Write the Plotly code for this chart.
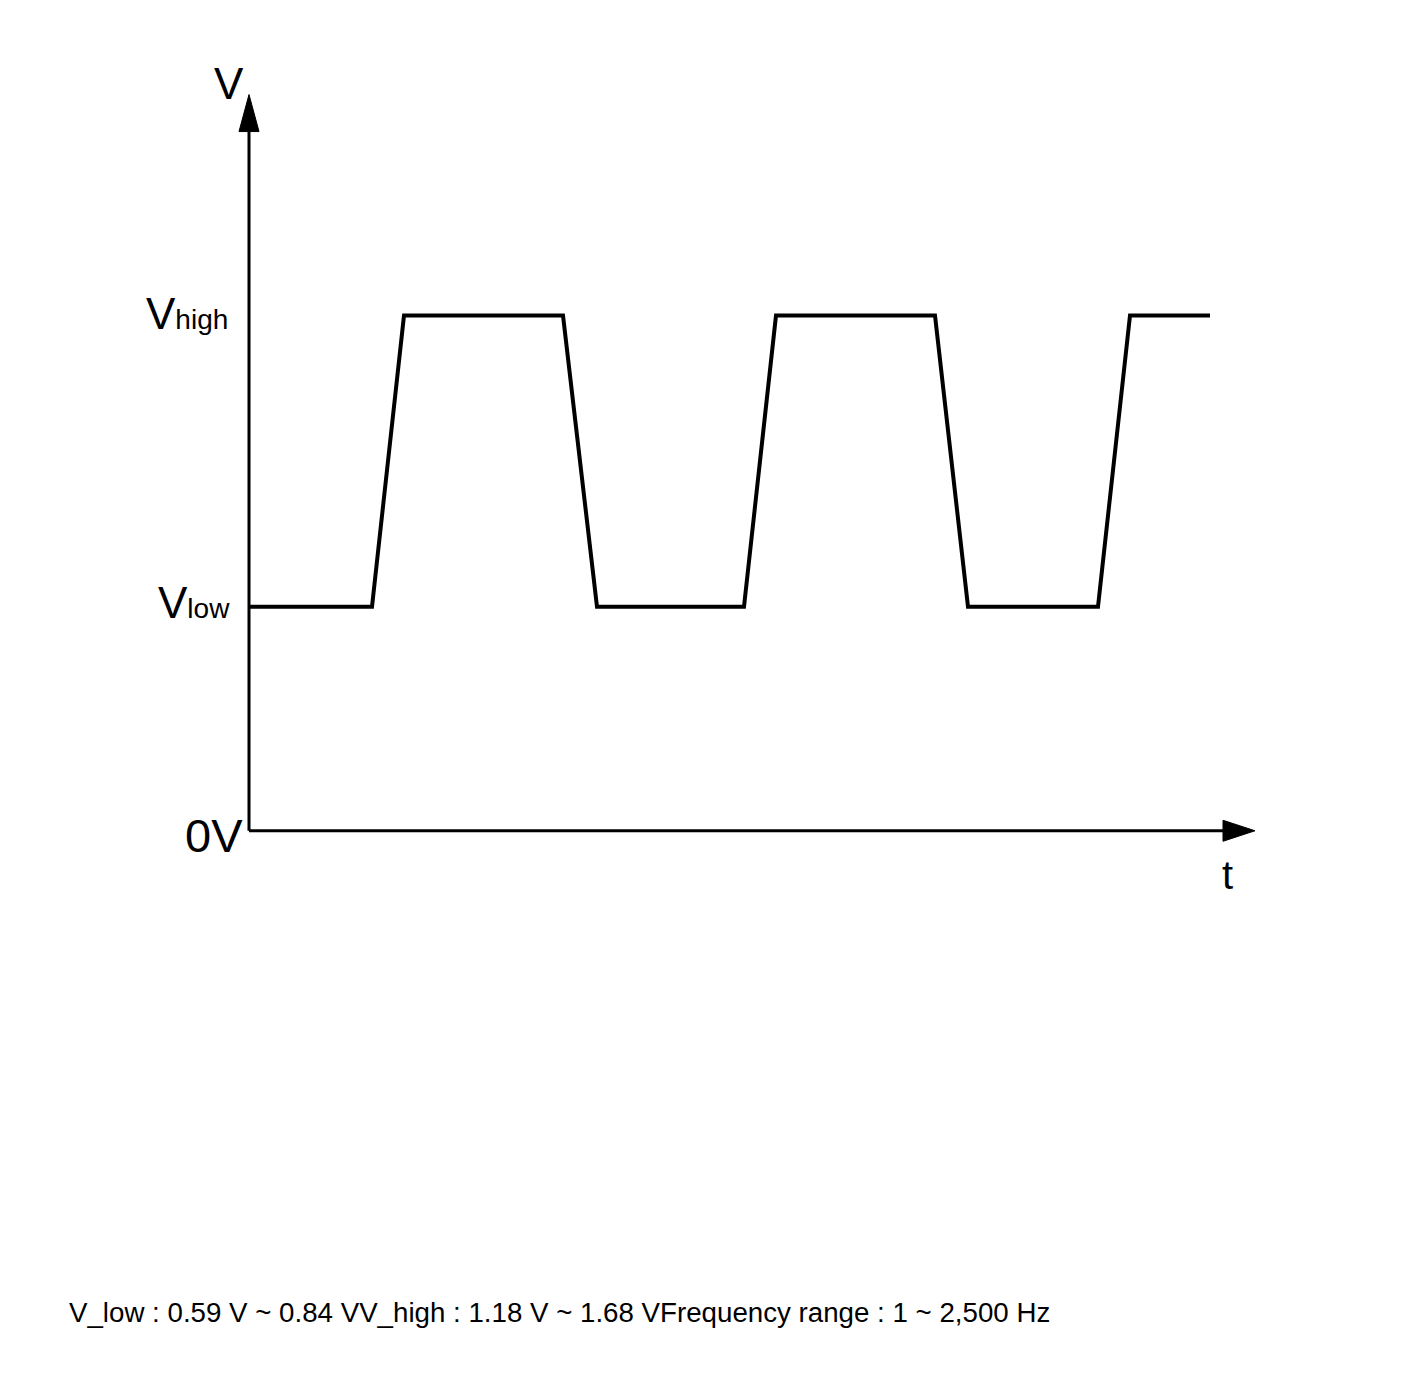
import plotly.graph_objects as go

# ---- data (schematic levels, arbitrary units) ----
V_LOW = 1.0
V_HIGH = 2.3
t_points = [0, 12.3, 15.5, 31.4, 34.8, 49.5, 52.7, 68.6, 71.9, 84.9, 88.1, 96.1]
v_points = [V_LOW, V_LOW, V_HIGH, V_HIGH, V_LOW, V_LOW, V_HIGH, V_HIGH, V_LOW, V_LOW, V_HIGH, V_HIGH]
level_labels = ["V<span style='font-size:28px'>high</span>", "V<span style='font-size:28px'>low</span>"]
footer_parts = ["V_low : 0.59 V ~ 0.84 V", "V_high : 1.18 V ~ 1.68 V", "Frequency range : 1 ~ 2,500 Hz"]

T_END = 100.6   # x-axis arrow tip
V_TOP = 3.286   # y-axis arrow tip
X_RANGE = [-5, 105]
Y_RANGE = [-0.3, 3.4]

W, H = 1408, 1376
PAGE_OFFSET = 8          # browser body margin
PX_T = 10.0
PX_V = 224.0
ORIGIN_X, ORIGIN_Y = 249 - PAGE_OFFSET, 831 - PAGE_OFFSET
ml = ORIGIN_X + X_RANGE[0] * PX_T
mr = W - (ORIGIN_X + X_RANGE[1] * PX_T)
mt = ORIGIN_Y - Y_RANGE[1] * PX_V
mb = H - (ORIGIN_Y - Y_RANGE[0] * PX_V)

FONT = "Liberation Sans, Arial, sans-serif"
BLACK = "#000000"

fig = go.Figure()
fig.add_trace(go.Scatter(x=t_points, y=v_points, mode="lines",
                         line=dict(color=BLACK, width=4), hoverinfo="skip",
                         showlegend=False))

# axes lines
fig.add_shape(type="line", x0=0, y0=0, x1=0, y1=V_TOP - 30 / PX_V,
              line=dict(color=BLACK, width=3))
fig.add_shape(type="line", x0=0, y0=0, x1=T_END - 25 / PX_T, y1=0,
              line=dict(color=BLACK, width=3))
# arrow heads
ay_len = 37 / PX_V
ay_hw = 10 / PX_T
fig.add_shape(type="path",
              path=f"M {-ay_hw} {V_TOP - ay_len} L 0 {V_TOP} L {ay_hw} {V_TOP - ay_len} Z",
              fillcolor=BLACK, line=dict(color=BLACK, width=1))
ax_len = 32 / PX_T
ax_hw = 10.5 / PX_V
fig.add_shape(type="path",
              path=f"M {T_END - ax_len} {-ax_hw} L {T_END} 0 L {T_END - ax_len} {ax_hw} Z",
              fillcolor=BLACK, line=dict(color=BLACK, width=1))

ann = []
ann.append(dict(x=-2.0, y=V_TOP, xref="x", yref="y", text="V", showarrow=False,
                xanchor="center", yanchor="middle", yshift=11,
                font=dict(family=FONT, size=44, color=BLACK)))
ann.append(dict(x=97.8, y=0, xref="x", yref="y", text="t", showarrow=False,
                xanchor="center", yanchor="middle", yshift=-44,
                font=dict(family=FONT, size=40, color=BLACK)))
ann.append(dict(x=-0.4, y=0, xref="x", yref="y", text="0V", showarrow=False,
                xanchor="right", yanchor="middle", yshift=-5,
                font=dict(family=FONT, size=47, color=BLACK)))
ann.append(dict(x=-1.9, y=V_HIGH, xref="x", yref="y", text=level_labels[0], showarrow=False,
                xanchor="right", yanchor="middle", yshift=2,
                font=dict(family=FONT, size=44, color=BLACK)))
ann.append(dict(x=-1.7, y=V_LOW, xref="x", yref="y", text=level_labels[1], showarrow=False,
                xanchor="right", yanchor="middle", yshift=4,
                font=dict(family=FONT, size=44, color=BLACK)))
plot_w = W - ml - mr
plot_h = H - mt - mb
ann.append(dict(x=(67 - PAGE_OFFSET - ml) / plot_w, y=(H - mb - (1313 - PAGE_OFFSET)) / plot_h,
                xref="paper", yref="paper",
                text="".join(footer_parts), showarrow=False, xanchor="left", yanchor="middle",
                font=dict(family=FONT, size=27.7, color=BLACK)))

fig.update_layout(
    width=W, height=H,
    margin=dict(l=ml, r=mr, t=mt, b=mb, pad=0),
    paper_bgcolor="white", plot_bgcolor="white",
    xaxis=dict(range=X_RANGE, visible=False, fixedrange=True),
    yaxis=dict(range=Y_RANGE, visible=False, fixedrange=True),
    annotations=ann,
    showlegend=False,
)

fig.write_html("out.html", config={"displayModeBar": False})
